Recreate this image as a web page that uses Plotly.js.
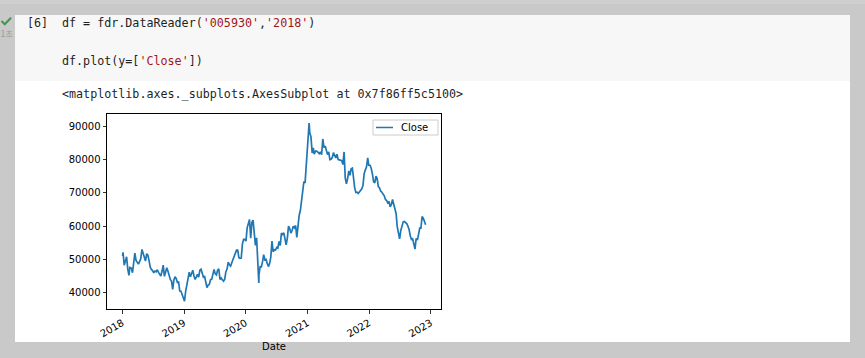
<!DOCTYPE html>
<html>
<head>
<meta charset="utf-8">
<script src="https://cdn.plot.ly/plotly-3.0.1.min.js"></script>
<style>
  html, body { margin:0; padding:0; }
  body { width:865px; height:358px; overflow:hidden; background:#c9c9c9; position:relative; font-family:"DejaVu Sans", sans-serif; }
  .abs { position:absolute; }
  #top { left:0; top:0; width:865px; height:4px; background:#cfcfcf; }
  #code { left:15px; top:15px; width:835px; height:66px; background:#f7f7f7; }
  #out { left:15px; top:81px; width:835px; height:261px; background:#ffffff; }
  #txt { left:0; top:0; }
  #chart { left:0; top:0; width:865px; height:358px; }
</style>
</head>
<body>
<div id="top" class="abs"></div>
<div id="code" class="abs"></div>
<div id="out" class="abs"></div>
<svg id="txt" class="abs" width="865" height="358" xmlns="http://www.w3.org/2000/svg">
  <polyline points="1.5,21 4.8,24.3 11,17.8" fill="none" stroke="#3f9b4b" stroke-width="2"/>
  <text x="0.5" y="36.5" font-family="Noto Sans CJK KR" font-size="8.5" fill="#9a9a9a">1초</text>
  <g font-family="DejaVu Sans Mono" font-size="11.7" fill="#1f1f1f" xml:space="preserve">
    <text x="27" y="27.3">[6]</text>
    <text x="62" y="27.3">df = fdr.DataReader(<tspan fill="#a31515">'005930'</tspan>,<tspan fill="#a31515">'2018'</tspan>)</text>
    <text x="62" y="64.5">df.plot(y=[<tspan fill="#a31515">'Close'</tspan>])</text>
    <text x="62" y="98">&lt;matplotlib.axes._subplots.AxesSubplot at 0x7f86ff5c5100&gt;</text>
  </g>
</svg>
<div id="chart" class="abs"></div>
<script>
const dates = [
"2018-01-02","2018-01-05","2018-01-12","2018-01-19","2018-01-26","2018-02-02","2018-02-09","2018-02-14","2018-02-23",
"2018-03-02","2018-03-09","2018-03-16","2018-03-23","2018-03-30","2018-04-06","2018-04-13","2018-04-20","2018-04-27",
"2018-05-04","2018-05-11","2018-05-18","2018-05-25","2018-06-01","2018-06-08","2018-06-15","2018-06-22","2018-06-29",
"2018-07-06","2018-07-13","2018-07-20","2018-07-27","2018-08-03","2018-08-10","2018-08-17","2018-08-24","2018-08-31",
"2018-09-07","2018-09-14","2018-09-21","2018-09-28","2018-10-05","2018-10-12","2018-10-19","2018-10-26",
"2018-11-02","2018-11-09","2018-11-16","2018-11-23","2018-11-30","2018-12-07","2018-12-14","2018-12-21","2018-12-28",
"2019-01-04","2019-01-11","2019-01-18","2019-01-25","2019-02-01","2019-02-08","2019-02-15","2019-02-22",
"2019-03-01","2019-03-08","2019-03-15","2019-03-22","2019-03-29","2019-04-05","2019-04-12","2019-04-19","2019-04-26",
"2019-05-03","2019-05-10","2019-05-17","2019-05-24","2019-05-31","2019-06-07","2019-06-14","2019-06-21","2019-06-28",
"2019-07-05","2019-07-12","2019-07-19","2019-07-26","2019-08-02","2019-08-09","2019-08-16","2019-08-23","2019-08-30",
"2019-09-06","2019-09-13","2019-09-20","2019-09-27","2019-10-04","2019-10-11","2019-10-18","2019-10-25",
"2019-11-01","2019-11-08","2019-11-15","2019-11-22","2019-11-29","2019-12-06","2019-12-13","2019-12-20","2019-12-27",
"2020-01-03","2020-01-10","2020-01-17","2020-01-24","2020-01-31","2020-02-07","2020-02-14","2020-02-21","2020-02-28",
"2020-03-06","2020-03-13","2020-03-19","2020-03-20","2020-03-27","2020-04-03","2020-04-10","2020-04-17","2020-04-24",
"2020-05-01","2020-05-08","2020-05-15","2020-05-22","2020-05-29","2020-06-05","2020-06-12","2020-06-19","2020-06-26",
"2020-07-03","2020-07-10","2020-07-17","2020-07-24","2020-07-31","2020-08-07","2020-08-14","2020-08-21","2020-08-28",
"2020-09-04","2020-09-11","2020-09-18","2020-09-25","2020-10-02","2020-10-09","2020-10-16","2020-10-23","2020-10-30",
"2020-11-06","2020-11-13","2020-11-20","2020-11-27","2020-12-04","2020-12-11","2020-12-18","2020-12-24","2020-12-30",
"2021-01-08","2021-01-11","2021-01-15","2021-01-22","2021-01-29","2021-02-05","2021-02-10","2021-02-19","2021-02-26",
"2021-03-05","2021-03-12","2021-03-19","2021-03-26","2021-04-02","2021-04-09","2021-04-16","2021-04-23","2021-04-30",
"2021-05-07","2021-05-14","2021-05-21","2021-05-28","2021-06-04","2021-06-11","2021-06-18","2021-06-25",
"2021-07-02","2021-07-09","2021-07-16","2021-07-23","2021-07-30","2021-08-06","2021-08-13","2021-08-20","2021-08-27",
"2021-09-03","2021-09-10","2021-09-17","2021-09-24","2021-10-01","2021-10-08","2021-10-15","2021-10-22","2021-10-29",
"2021-11-05","2021-11-12","2021-11-19","2021-11-26","2021-12-03","2021-12-10","2021-12-17","2021-12-24","2021-12-30",
"2022-01-07","2022-01-14","2022-01-21","2022-01-28","2022-02-04","2022-02-11","2022-02-18","2022-02-25",
"2022-03-04","2022-03-11","2022-03-18","2022-03-25","2022-04-01","2022-04-08","2022-04-15","2022-04-22","2022-04-29",
"2022-05-06","2022-05-13","2022-05-20","2022-05-27","2022-06-03","2022-06-10","2022-06-17","2022-06-24",
"2022-07-01","2022-07-08","2022-07-15","2022-07-22","2022-07-29","2022-08-05","2022-08-12","2022-08-19","2022-08-26",
"2022-09-02","2022-09-09","2022-09-16","2022-09-23","2022-09-30","2022-10-07","2022-10-14","2022-10-21","2022-10-28",
"2022-11-04","2022-11-11","2022-11-18","2022-11-25","2022-12-02"
];
const closeValues = [
51020,52120,48240,49900,50780,47060,45200,47600,47400,
46000,49000,51900,49700,49220,48600,49360,50280,53000,
51900,51000,49500,51700,51300,49650,47650,47000,46650,
45950,46500,46300,46900,46100,45400,45000,46500,48300,
44900,46100,47500,46450,44700,44000,43500,41000,
43800,44800,44200,43100,43200,40500,40450,39500,38700,
37450,40500,42300,43700,46150,44800,46050,46750,
45100,44000,44700,45550,44650,46750,47050,45350,44650,
44850,42900,41550,42300,42500,43900,44000,45500,47000,
45650,45350,46800,47150,44000,44450,43900,43500,44000,
46300,47100,49200,48400,48000,49000,50000,50500,
51700,52800,52800,50500,50300,50400,54700,56000,56000,
55500,59500,61300,62000,56400,61100,61800,58200,54200,
56500,49950,42950,45400,47800,47750,49250,51400,49850,
50000,48800,47850,48750,50700,55500,52300,52900,52800,
53600,53400,55400,54200,57900,57500,58000,55400,54400,
56400,60000,59300,57900,58700,60000,59500,60200,56600,
60100,63200,64700,68200,71500,73400,73000,77800,81000,
88800,91000,88000,86800,82000,83500,81600,82600,82500,
82100,81800,82300,81500,86200,83600,84100,82800,81500,
82300,80000,80100,80600,82100,81000,80500,81600,
80000,79900,79800,79700,78500,82300,74400,72700,74300,
76600,75300,77200,77400,73200,71500,70100,70200,69800,
70200,70600,71200,72300,75800,76900,77800,80500,78300,
78300,77300,75600,73300,73000,75000,74300,71900,
71500,70500,70200,69700,69100,68000,67700,67000,67400,
65800,66500,68000,66500,65300,63800,59800,58400,
56200,58700,60000,61300,61400,61200,60800,60000,59000,
57100,56000,56200,54500,53100,56300,55800,57500,59400,
59400,62900,62400,61000,60400
];
const seriesName = "Close";
const yearTicks = ["2018-01-01","2019-01-01","2020-01-01","2021-01-01","2022-01-01","2023-01-01"];
const yearLabels = ["2018","2019","2020","2021","2022","2023"];
const priceTicks = [40000,50000,60000,70000,80000,90000];

const lineColor = "#1f77b4";
const tickFont = {family:"DejaVu Sans", size:10, color:"#000"};
const trace = {
  x: dates, y: closeValues, type:"scatter", mode:"lines", name: seriesName,
  line:{color:lineColor, width:1.7}, showlegend:false
};
const layout = {
  width:865, height:358,
  margin:{l:107, r:424, t:114, b:49, pad:0},
  paper_bgcolor:"rgba(0,0,0,0)", plot_bgcolor:"#ffffff",
  showlegend:false,
  xaxis:{type:"date", range:["2017-10-02","2023-03-03"], tickvals:yearTicks, ticktext:yearLabels,
         tickangle:-30, ticks:"outside", ticklen:3.5, tickwidth:0.8, tickcolor:"#000",
         showline:true, linecolor:"#000", linewidth:1, mirror:true, showgrid:false, zeroline:false,
         tickfont:tickFont, automargin:false,
         title:{text:"Date", font:{family:"DejaVu Sans", size:10, color:"#000"}, standoff:4}},
  yaxis:{range:[35100,93700], tickvals:priceTicks, ticktext:priceTicks.map(String),
         ticks:"outside", ticklen:3.5, tickwidth:0.8, tickcolor:"#000",
         showline:true, linecolor:"#000", linewidth:1, mirror:true, showgrid:false, zeroline:false,
         tickfont:tickFont, automargin:false},
  // legend box (matplotlib style) in paper coordinates
  shapes:[
    {type:"rect", xref:"paper", yref:"paper", x0:0.7964, x1:0.991, y0:0.8923, y1:0.9692,
     line:{color:"#cccccc", width:1}, fillcolor:"rgba(255,255,255,0.8)", layer:"above"},
    {type:"line", xref:"paper", yref:"paper", x0:0.8054, x1:0.8563, y0:0.9308, y1:0.9308,
     line:{color:lineColor, width:1.5}, layer:"above"}
  ],
  annotations:[
    {text:seriesName, xref:"paper", yref:"paper", x:0.8743, y:0.9308, xanchor:"left", yanchor:"middle",
     showarrow:false, font:{family:"DejaVu Sans", size:10, color:"#000"}}
  ]
};
Plotly.newPlot("chart", [trace], layout, {displayModeBar:false, staticPlot:true});
</script>
</body>
</html>
